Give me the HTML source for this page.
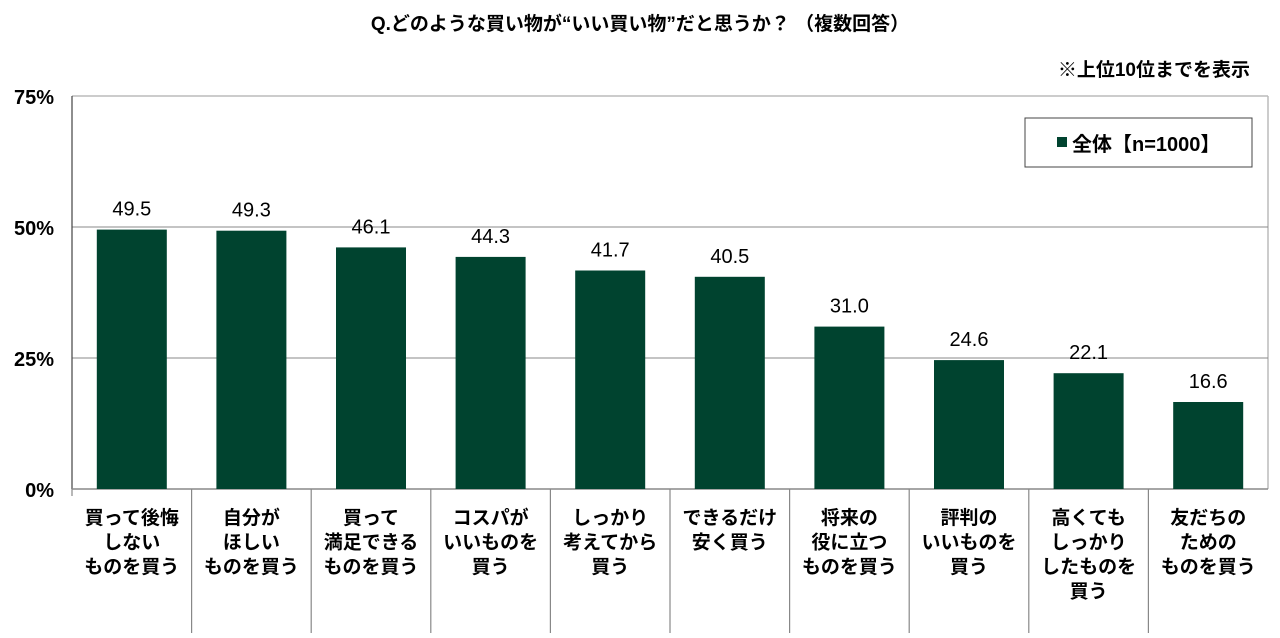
<!DOCTYPE html>
<html><head><meta charset="utf-8"><style>
body{margin:0;background:#fff;width:1280px;height:633px;overflow:hidden;}
</style></head><body>
<svg width="1280" height="633" xmlns="http://www.w3.org/2000/svg" font-family="Liberation Sans, Noto Sans CJK JP, sans-serif">
<text x="640" y="30" text-anchor="middle" font-size="19" font-weight="bold">Q.どのような買い物が“いい買い物”だと思うか？ （複数回答）</text>
<text x="1250" y="76" text-anchor="end" font-size="19" font-weight="bold">※上位10位までを表示</text>
<line x1="72" y1="96" x2="1268" y2="96" stroke="#bbb" stroke-width="1.5"/>
<line x1="1268" y1="96" x2="1268" y2="489" stroke="#bbb" stroke-width="1.5"/>
<line x1="72" y1="227" x2="1268" y2="227" stroke="#888" stroke-width="1"/>
<line x1="72" y1="358" x2="1268" y2="358" stroke="#888" stroke-width="1"/>
<line x1="72" y1="96" x2="72" y2="489" stroke="#444" stroke-width="1.2"/>
<line x1="72" y1="489" x2="1268" y2="489" stroke="#888" stroke-width="1.5"/>
<g font-size="20" font-weight="bold" text-anchor="end">
<text x="54" y="104">75%</text><text x="54" y="235">50%</text><text x="54" y="366">25%</text><text x="54" y="497">0%</text>
</g>
<rect x="1025" y="118" width="227" height="49" fill="#fff" stroke="#444" stroke-width="1"/>
<rect x="1057" y="137" width="10" height="10" fill="#00432f"/>
<text x="1072" y="151" font-size="20" font-weight="bold">全体【n=1000】</text>
<g fill="#00432f">
<rect x="96.8" y="229.6" width="70" height="259.4"/>
<rect x="216.4" y="230.7" width="70" height="258.3"/>
<rect x="336" y="247.4" width="70" height="241.6"/>
<rect x="455.6" y="256.9" width="70" height="232.1"/>
<rect x="575.2" y="270.5" width="70" height="218.5"/>
<rect x="694.8" y="276.8" width="70" height="212.2"/>
<rect x="814.4" y="326.6" width="70" height="162.4"/>
<rect x="934" y="360.1" width="70" height="128.9"/>
<rect x="1053.6" y="373.2" width="70" height="115.8"/>
<rect x="1173.2" y="402" width="70" height="87"/>
</g>
<g font-size="20" text-anchor="middle">
<text x="131.8" y="215.6">49.5</text>
<text x="251.4" y="216.7">49.3</text>
<text x="371" y="233.4">46.1</text>
<text x="490.6" y="242.9">44.3</text>
<text x="610.2" y="256.5">41.7</text>
<text x="729.8" y="262.8">40.5</text>
<text x="849.4" y="312.6">31.0</text>
<text x="969" y="346.1">24.6</text>
<text x="1088.6" y="359.2">22.1</text>
<text x="1208.2" y="388">16.6</text>
</g>
<g stroke="#888" stroke-width="1.2">
<line x1="72" y1="489" x2="72" y2="496"/>
<line x1="191.6" y1="489" x2="191.6" y2="633"/>
<line x1="311.2" y1="489" x2="311.2" y2="633"/>
<line x1="430.8" y1="489" x2="430.8" y2="633"/>
<line x1="550.4" y1="489" x2="550.4" y2="633"/>
<line x1="670" y1="489" x2="670" y2="633"/>
<line x1="789.6" y1="489" x2="789.6" y2="633"/>
<line x1="909.2" y1="489" x2="909.2" y2="633"/>
<line x1="1028.8" y1="489" x2="1028.8" y2="633"/>
<line x1="1148.4" y1="489" x2="1148.4" y2="633"/>
</g>
<g font-size="19" font-weight="bold" text-anchor="middle">
<text x="131.8" y="524">買って後悔</text><text x="131.8" y="548.5">しない</text><text x="131.8" y="573">ものを買う</text>
<text x="251.4" y="524">自分が</text><text x="251.4" y="548.5">ほしい</text><text x="251.4" y="573">ものを買う</text>
<text x="371" y="524">買って</text><text x="371" y="548.5">満足できる</text><text x="371" y="573">ものを買う</text>
<text x="490.6" y="524">コスパが</text><text x="490.6" y="548.5">いいものを</text><text x="490.6" y="573">買う</text>
<text x="610.2" y="524">しっかり</text><text x="610.2" y="548.5">考えてから</text><text x="610.2" y="573">買う</text>
<text x="729.8" y="524">できるだけ</text><text x="729.8" y="548.5">安く買う</text>
<text x="849.4" y="524">将来の</text><text x="849.4" y="548.5">役に立つ</text><text x="849.4" y="573">ものを買う</text>
<text x="969" y="524">評判の</text><text x="969" y="548.5">いいものを</text><text x="969" y="573">買う</text>
<text x="1088.6" y="524">高くても</text><text x="1088.6" y="548.5">しっかり</text><text x="1088.6" y="573">したものを</text><text x="1088.6" y="597.5">買う</text>
<text x="1208.2" y="524">友だちの</text><text x="1208.2" y="548.5">ための</text><text x="1208.2" y="573">ものを買う</text>
</g>
</svg>
</body></html>
